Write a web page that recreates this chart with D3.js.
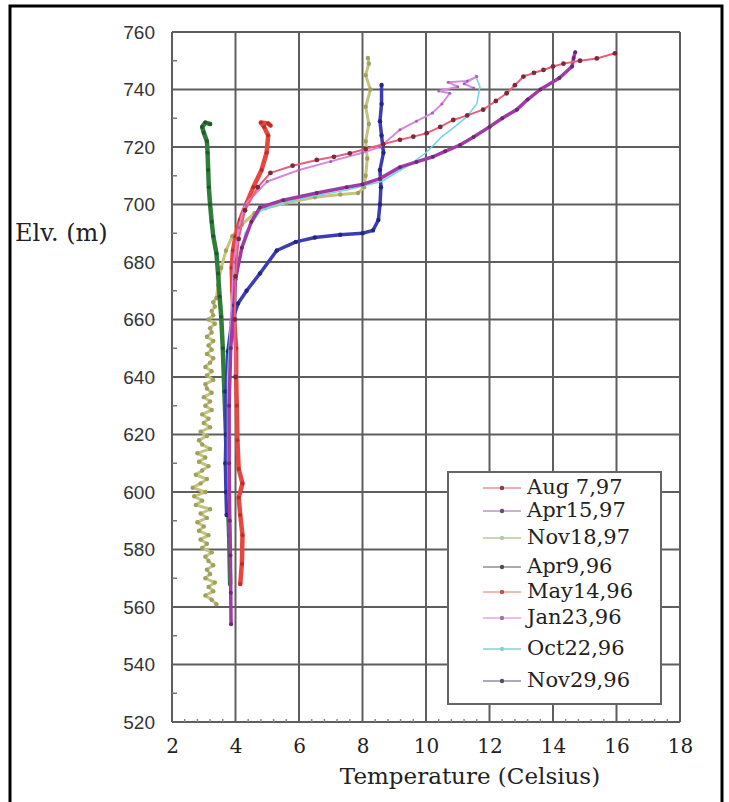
<!DOCTYPE html>
<html>
<head>
<meta charset="utf-8">
<script src="https://cdn.jsdelivr.net/npm/d3@7"></script>
<style>
  body { margin: 0; background: #fff; }
  svg { display: block; }
  .tick line { display: none; }
  .domain { display: none; }
  .y-axis text { font-family: "Liberation Sans", Arial, sans-serif; font-size: 19px; fill: #333; }
  .x-axis text { font-family: "DejaVu Serif", serif; font-size: 20px; fill: #222; }
  .lbl { font-family: "DejaVu Serif", serif; fill: #222; }
  .legend text { font-family: "DejaVu Serif", serif; font-size: 21px; fill: #222; }
</style>
</head>
<body>
<svg id="chart"></svg>
<script>
// tick values
const tempTicks = [2, 4, 6, 8, 10, 12, 14, 16, 18];
const elevTicks = [520, 540, 560, 580, 600, 620, 640, 660, 680, 700, 720, 740, 760];

const seriesNames = ['Aug 7,97', 'Apr15,97', 'Nov18,97', 'Apr9,96', 'May14,96', 'Jan23,96', 'Oct22,96', 'Nov29,96'];

// profiles: [temperature, elevation]
const aug7_97 = [[4.0,640],[3.98,660],[4.0,675],[4.1,688],[4.3,698],[4.7,706],[5.1,711],[5.8,713.5],[6.56,715.5],
  [7.1,716.6],[7.6,717.8],[8.1,719.3],[8.65,721],[9.18,722.5],[9.6,723.6],[10.02,724.8],[10.45,727],[10.86,729.4],
  [11.3,731],[11.8,733],[12.2,736],[12.54,738.7],[12.8,741.5],[13.07,744.5],[13.4,745.8],[13.7,746.8],[14.0,748],
  [14.33,749],[14.85,750],[15.38,750.8],[15.95,752.6]];

const apr15_97 = [[3.86,554],[3.85,565],[3.84,578],[3.82,590],[3.8,610],[3.8,630],[3.85,650],[3.95,665],[4.0,674],
  [4.2,685],[4.5,694],[4.77,699],[5.5,701.5],[6.56,704],[7.5,706],[8.0,707],[8.55,709],[9.18,713],[9.7,714.8],
  [10.22,716.6],[10.6,718.5],[11.07,720.7],[11.5,723.5],[12.0,727],[12.4,730],[12.86,733],[13.2,736.5],[13.6,740],
  [14.2,744],[14.6,748],[14.65,751],[14.7,753]];

const nov18_97 = [[3.40,561],[3.25,562.5],[3.05,564],[3.30,565.5],[3.15,567],[3.35,568.5],[3.05,570],[3.20,571.5],
  [3.10,573],[3.30,574.5],[3.15,576],[3.05,577.5],[3.25,579],[2.95,580.5],[3.10,582],[2.90,583.5],[3.15,585],
  [2.85,586.5],[3.00,588],[2.80,589.5],[3.10,591],[2.90,592.5],[3.20,594],[2.75,595.5],[2.95,597],[2.70,598.5],
  [3.05,600],[2.65,601.5],[2.90,603],[3.10,604.5],[2.75,606],[2.95,607.5],[3.15,609],[2.85,610.5],[3.05,612],
  [2.80,613.5],[3.20,615],[2.95,616.5],[2.85,618],[3.10,619.5],[2.90,621],[3.20,622.5],[3.00,624],[3.15,625.5],
  [2.95,627],[3.25,628.5],[3.05,630],[3.20,631.5],[3.00,633],[3.25,634.5],[3.10,636],[3.05,637.5],[3.30,639],
  [3.10,640.5],[3.25,642],[3.05,643.5],[3.20,645],[3.30,646.5],[3.10,648],[3.25,649.5],[3.15,651],[3.30,652.5],
  [3.10,654],[3.25,655.5],[3.20,657],[3.35,658.5],[3.15,660],[3.30,661.5],[3.25,663],[3.35,664.5],[3.30,666],
  [3.40,667.5],[3.45,672],[3.55,678],[3.7,684],[3.9,689],[4.2,693],[4.6,697],[4.93,698.7],[5.6,700.5],[6.5,702.5],
  [7.3,703.5],[7.86,704],[8.05,706],[8.1,710],[8.15,716],[8.1,722],[8.2,728],[8.1,734],[8.25,740],[8.1,745],
  [8.2,749],[8.17,751]];

const apr9_96 = [[3.83,568],[3.8,585],[3.75,600],[3.7,620],[3.65,635],[3.6,650],[3.55,661],[3.5,668],[3.45,676],
  [3.4,683],[3.3,689],[3.25,694],[3.2,700],[3.16,706],[3.14,712],[3.12,718],[3.1,722],[3.0,725],[2.95,727],[3.05,728.5],[3.2,728]];

const may14_96 = [[4.15,568],[4.2,575],[4.22,585],[4.15,592],[4.1,598],[4.22,603],[4.1,608],[4.06,618],[4.04,630],
  [4.02,640],[4.02,650],[3.95,660],[3.9,670],[3.88,678],[3.92,684],[4.0,689],[4.14,694.6],[4.35,700.5],[4.56,706],
  [4.82,712],[4.98,718],[5.03,724],[4.9,727],[4.8,728.5],[5.03,728.2],[5.1,727.5]];

const jan23_96 = [[3.85,575],[3.82,600],[3.8,630],[3.85,660],[3.95,680],[4.1,692],[4.3,700],[5.0,708],[6.0,712],
  [7.0,715],[8.0,718],[8.55,720],[9.18,726],[9.7,729],[10.2,731.8],[10.5,735],[10.75,738.7],[10.4,739.5],[11.0,741],
  [10.7,742.5],[11.3,743],[11.6,744.5],[11.2,742],[11.5,740.5]];

const oct22_96 = [[3.83,578],[3.8,590],[3.75,610],[3.75,640],[3.85,660],[4.0,675],[4.3,690],[4.8,698],[6.0,702],
  [7.5,705],[8.6,708],[9.5,714],[10.0,718],[10.5,723.6],[10.9,727],[11.28,730.5],[11.6,735],[11.7,741],[11.55,745]];

const nov29_96 = [[3.72,592],[3.7,600],[3.68,610],[3.7,620],[3.7,635],[3.76,649],[3.88,659],[4.08,665.6],[4.35,670],
  [4.77,676],[5.3,684],[5.9,687],[6.5,688.5],[7.3,689.5],[8.0,690],[8.33,691],[8.5,694.6],[8.55,700],[8.58,706],
  [8.55,712],[8.66,718],[8.6,724],[8.55,729],[8.6,735],[8.6,741.6]];

const series = [
  {name: 'Nov18,97', data: nov18_97, color: '#c4c47e', dot: '#a0a060', width: 3, r: 2.2},
  {name: 'Apr9,96',  data: apr9_96,  color: '#2f7d3b', dot: '#1f5a28', width: 4.5, r: 2},
  {name: 'May14,96', data: may14_96, color: '#e8463e', dot: '#c02a2a', width: 4.5, r: 2},
  {name: 'Nov29,96', data: nov29_96, color: '#3c3cb4', dot: '#262680', width: 3.5, r: 2.2},
  {name: 'Oct22,96', data: oct22_96, color: '#6fd6e6', dot: '#6fd6e6', width: 1.5, r: 0},
  {name: 'Jan23,96', data: jan23_96, color: '#d68ade', dot: '#a860b0', width: 2, r: 1.5},
  {name: 'Apr15,97', data: apr15_97, color: '#a03aa8', dot: '#6a2a70', width: 3.5, r: 2},
  {name: 'Aug 7,97', data: aug7_97,  color: '#e8607e', dot: '#7a2a3a', width: 2, r: 2.4}
];

const legendColors = {
  'Aug 7,97': ['#e890a0', '#8a3a4a'],
  'Apr15,97': ['#b49ab8', '#6a4a70'],
  'Nov18,97': ['#b8c8a0', '#b8c8a0'],
  'Apr9,96':  ['#909090', '#505050'],
  'May14,96': ['#f0a090', '#c05050'],
  'Jan23,96': ['#e0a8e0', '#a070a8'],
  'Oct22,96': ['#8ad0d0', '#8ad0d0'],
  'Nov29,96': ['#9090a0', '#505060']
};

const W = 729, H = 802;
const margin = {top: 32, right: 49, bottom: 80, left: 172};
const width = W - margin.left - margin.right;
const height = H - margin.top - margin.bottom;

const svg = d3.select('#chart').attr('width', W).attr('height', H);

// outer frame
svg.append('path')
  .attr('d', `M10,${H + 5} L10,6 L722,6 L722,${H + 5}`)
  .attr('fill', 'none')
  .attr('stroke', '#000')
  .attr('stroke-width', 3);

const chart = svg.append('g').attr('transform', `translate(${margin.left},${margin.top})`);

const x = d3.scaleLinear().domain([2, 18]).range([0, width]);
const y = d3.scaleLinear().domain([520, 760]).range([height, 0]);

// grid
chart.append('g').selectAll('line.v')
  .data(tempTicks)
  .join('line')
    .attr('x1', d => x(d)).attr('x2', d => x(d))
    .attr('y1', 0).attr('y2', height)
    .attr('stroke', '#5e5e5e').attr('stroke-width', 2);

chart.append('g').selectAll('line.h')
  .data(elevTicks)
  .join('line')
    .attr('y1', d => y(d)).attr('y2', d => y(d))
    .attr('x1', 0).attr('x2', width)
    .attr('stroke', '#5e5e5e').attr('stroke-width', 2);

// minor ticks
chart.append('g').selectAll('line')
  .data(d3.range(530, 760, 20))
  .join('line')
    .attr('x1', 0).attr('x2', 5)
    .attr('y1', d => y(d)).attr('y2', d => y(d))
    .attr('stroke', '#777').attr('stroke-width', 1.5);

chart.append('g').selectAll('line')
  .data(d3.range(2.4, 18, 0.4).filter(d => Math.abs(d / 2 - Math.round(d / 2)) > 0.05))
  .join('line')
    .attr('x1', d => x(d)).attr('x2', d => x(d))
    .attr('y1', height).attr('y2', height - 3)
    .attr('stroke', '#888').attr('stroke-width', 1.5);

// axes
chart.append('g')
  .attr('class', 'x-axis')
  .attr('transform', `translate(0,${height})`)
  .call(d3.axisBottom(x).tickValues(tempTicks).tickSize(0).tickPadding(17));

chart.append('g')
  .attr('class', 'y-axis')
  .call(d3.axisLeft(y).tickValues(elevTicks).tickSize(0).tickPadding(17));

// profiles
const line = d3.line()
  .x(d => x(d[0]))
  .y(d => y(d[1]));

series.forEach(s => {
  chart.append('path')
    .datum(s.data)
    .attr('fill', 'none')
    .attr('stroke', s.color)
    .attr('stroke-width', s.width)
    .attr('stroke-linejoin', 'round')
    .attr('stroke-linecap', 'round')
    .attr('d', line);

  if (s.r > 0) {
    chart.append('g').selectAll('circle')
      .data(s.data)
      .join('circle')
        .attr('cx', d => x(d[0]))
        .attr('cy', d => y(d[1]))
        .attr('r', s.r)
        .attr('fill', s.dot);
  }
});

// legend
const legend = svg.append('g').attr('class', 'legend');
legend.append('rect')
  .attr('x', 448).attr('y', 472)
  .attr('width', 213).attr('height', 232)
  .attr('fill', '#fff')
  .attr('stroke', '#666')
  .attr('stroke-width', 2);

const legendY = [487, 510, 537, 566, 591, 617, 648, 680];
seriesNames.forEach((name, i) => {
  const c = legendColors[name];
  const ly = legendY[i] + 1;
  legend.append('line')
    .attr('x1', 483).attr('x2', 521)
    .attr('y1', ly).attr('y2', ly)
    .attr('stroke', c[0]).attr('stroke-width', 1.6);
  legend.append('circle')
    .attr('cx', 502).attr('cy', ly).attr('r', 2.2)
    .attr('fill', c[1]);
  legend.append('text')
    .attr('x', 527).attr('y', legendY[i])
    .attr('dy', '0.35em')
    .text(name);
});

// axis titles
svg.append('text')
  .attr('class', 'lbl')
  .attr('x', 470).attr('y', 776)
  .attr('dy', '0.35em')
  .attr('text-anchor', 'middle')
  .style('font-size', '23px')
  .text('Temperature (Celsius)');

svg.append('text')
  .attr('class', 'lbl')
  .attr('x', 15).attr('y', 233)
  .attr('dy', '0.35em')
  .style('font-size', '24px')
  .text('Elv. (m)');
</script>
</body>
</html>
